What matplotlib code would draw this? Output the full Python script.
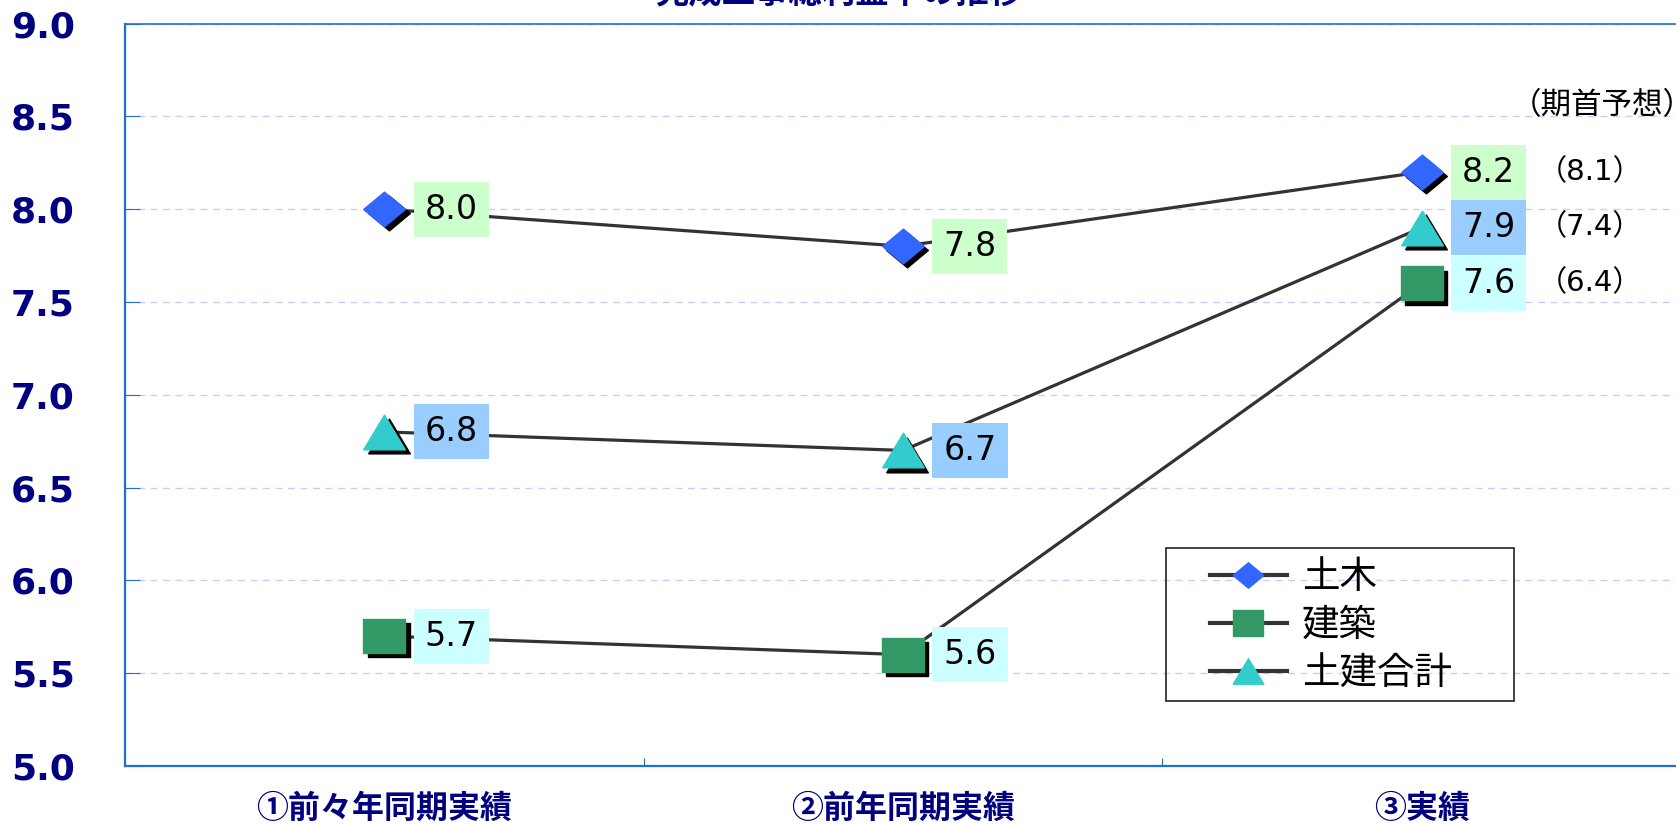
import matplotlib
matplotlib.use('Agg')
import matplotlib.pyplot as plt
from matplotlib.transforms import ScaledTranslation
from matplotlib.patches import Rectangle

# データ
categories = ['①前々年同期実績', '②前年同期実績', '③実績']
series_names = ['土木', '建築', '土建合計']
doboku = [8.0, 7.8, 8.2]
kenchiku = [5.7, 5.6, 7.6]
total = [6.8, 6.7, 7.9]
forecast = [8.1, 6.4, 7.4]   # 期首予想 (土木, 建築, 土建合計)
title = '完成工事総利益率の推移'
yticks = [5.0, 5.5, 6.0, 6.5, 7.0, 7.5, 8.0, 8.5, 9.0]

CJK = ['Noto Sans CJK JP', 'DejaVu Sans']
NUM = ['DejaVu Sans', 'Noto Sans CJK JP']
NAVY = '#000080'
SPINE = '#1f6fd0'

# マーカー (横長)
diamond = [(-0.6, 0), (0, 0.5), (0.6, 0), (0, -0.5), (-0.6, 0)]
square = [(-0.6, -0.5), (0.6, -0.5), (0.6, 0.5), (-0.6, 0.5), (-0.6, -0.5)]
triangle = [(-0.6, -0.5), (0.6, -0.5), (0, 0.5), (-0.6, -0.5)]

styles = [
    (doboku, diamond, '#3366ff', '#ccffcc'),
    (kenchiku, square, '#339966', '#ccffff'),
    (total, triangle, '#33cccc', '#99ccff'),
]

fig = plt.figure(figsize=(16.76, 8.25), dpi=100)
ax = fig.add_axes([125 / 1676, 59 / 825, 1556 / 1676, 742.5 / 825])

x = list(range(len(categories)))
shadow = ax.transData + ScaledTranslation(3 / 72, -3 / 72, fig.dpi_scale_trans)

handles = []
for (vals, mk, col, bg), name in zip(styles, series_names):
    ax.plot(x, vals, color='#333333', lw=2.3, zorder=2)
    ax.plot(x, vals, ls='none', marker=mk, ms=30, mfc='black', mec='black',
            transform=shadow, zorder=3)
    ax.plot(x, vals, ls='none', marker=mk, ms=30, mfc=col, mec=col, zorder=4)
    h = ax.plot([], [], color='#333333', lw=3, marker=mk, ms=22,
                mfc=col, mec=col, label=name)[0]
    handles.append(h)
    for xi, v in zip(x, vals):
        ax.annotate(f'{v:.1f}', xy=(xi, v), xytext=(29, 0), textcoords='offset points',
                    ha='left', va='center', fontsize=24, color='black',
                    bbox=dict(boxstyle='square,pad=0.33', fc=bg, ec='none'), zorder=5)

# 期首予想
for vals, f in zip([doboku, kenchiku, total], forecast):
    ax.annotate(f'（{f:.1f}）', xy=(2, vals[2]), xytext=(121, 0), textcoords='offset points',
                ha='center', va='center', fontsize=21, family=NUM, annotation_clip=False)
ax.annotate('（期首予想）', xy=(2, doboku[2]), xytext=(130, 48), textcoords='offset points',
            ha='center', va='center', fontsize=22, family=CJK, annotation_clip=False)

ax.set_xlim(-0.5, 2.5)
ax.set_ylim(5.0, 9.0)
ax.set_yticks(yticks)
ax.set_yticklabels([f'{t:.1f}' for t in yticks], fontsize=26, fontweight='bold',
                   color=NAVY, ha='left')
ax.tick_params(axis='y', direction='in', length=11, color=SPINE, pad=82)
ax.set_xticks(x)
ax.set_xticklabels(categories, family=CJK, fontsize=23, fontweight='bold', color=NAVY)
ax.tick_params(axis='x', length=0, pad=19)
ax.set_xticks([0.5, 1.5], minor=True)
ax.tick_params(axis='x', which='minor', direction='in', length=6, color=SPINE, width=0.8)

ax.grid(axis='y', color='#ccccff', lw=1, ls=(0, (5, 4)))
ax.set_axisbelow(True)
for s in ['left', 'bottom', 'top', 'right']:
    ax.spines[s].set_color(SPINE)
ax.spines['left'].set_linewidth(1.6)
ax.spines['bottom'].set_linewidth(1.6)
ax.spines['top'].set_linewidth(1.2)

fig.text(839 / 1676, 831 / 825, title, ha='center', va='center', fontsize=24,
         fontweight='bold', color=NAVY, family=CJK)

leg = ax.legend(handles=handles, loc='upper left',
                bbox_to_anchor=(1210 / 1676, 1 - 558 / 825),
                bbox_transform=fig.transFigure, frameon=False,
                prop={'family': CJK, 'size': 27}, handlelength=2.05,
                handletextpad=0.4, labelspacing=0.24, borderpad=0.0,
                borderaxespad=0)

fig.canvas.draw()
bb = leg.get_window_extent()
fig.add_artist(Rectangle((bb.x0 - 44, bb.y0 - 8), bb.width + 106, bb.height + 18,
                         transform=None, fill=False, ec='#222222', lw=1.2))

plt.savefig('out.png', dpi=100)
plt.close()
